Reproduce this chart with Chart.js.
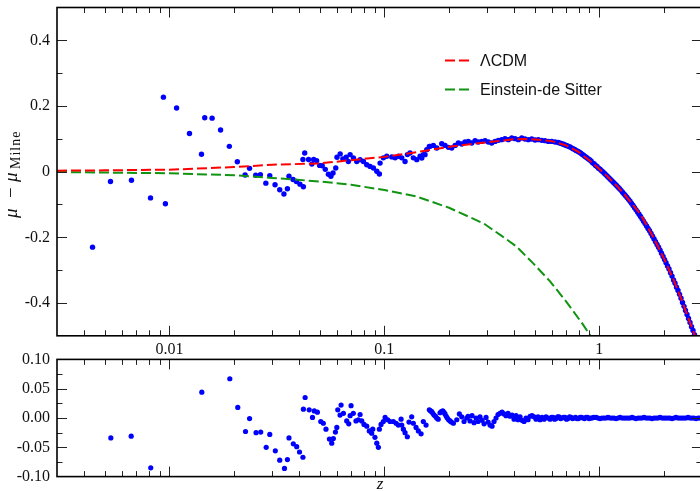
<!DOCTYPE html>
<html lang="en">
<head>
  <meta charset="UTF-8" />
  <title>mu - mu Milne</title>
  <style>
    html, body {
      margin: 0;
      padding: 0;
      background: #fff;
      overflow: hidden;
    }
    #wrap {
      position: relative;
      width: 700px;
      height: 491px;
      overflow: hidden;
    }
    canvas {
      position: absolute;
      left: 0;
    }
    #topChart { top: 0; }
    #resChart { top: 345px; }
  </style>
</head>
<body>
  <div id="wrap">
    <canvas id="topChart" width="720" height="360"></canvas>
    <canvas id="resChart" width="720" height="146"></canvas>
  </div>

  <script src="https://cdn.jsdelivr.net/npm/chart.js"></script>
  <script>
    // model curves
    const zModel = [0.003, 0.005, 0.01, 0.02, 0.03, 0.05, 0.07, 0.1, 0.15, 0.2, 0.25, 0.3, 0.35, 0.4, 0.45, 0.5,
      0.6, 0.7, 0.8, 0.9, 1.0, 1.1, 1.2, 1.3, 1.4, 1.5, 1.6, 1.8, 2.0, 2.2, 2.4, 2.6, 2.8, 3.0];
    const lcdm = [0.003, 0.004, 0.006, 0.014, 0.021, 0.025, 0.035, 0.045, 0.062, 0.0755, 0.0837, 0.0895, 0.0944, 0.0986, 0.0992, 0.098,
      0.093, 0.080, 0.060, 0.034, 0.008, -0.017, -0.042, -0.067, -0.093, -0.117, -0.144, -0.205, -0.265, -0.325, -0.386, -0.448, -0.504, -0.565];

    const zEds = [0.003, 0.01, 0.02, 0.03, 0.05, 0.07, 0.1, 0.14, 0.2, 0.29, 0.35, 0.41, 0.49, 0.59, 0.7, 0.84, 0.92];
    const eds = [-0.001, -0.005, -0.011, -0.019, -0.03, -0.04, -0.056, -0.075, -0.11, -0.158, -0.195, -0.227, -0.278, -0.334, -0.395, -0.466, -0.505];

    // supernova points, top panel
    const zTop = [
      0.00439, 0.00532, 0.00666, 0.00817, 0.00938, 0.00958, 0.0108, 0.0124, 0.0141, 0.0146,
      0.0158, 0.0173, 0.0190, 0.0207, 0.0225, 0.0236, 0.0252, 0.0265, 0.0281, 0.0293,
      0.0310, 0.0326, 0.0341, 0.0354, 0.0360, 0.0376, 0.0390, 0.0405, 0.0420, 0.0418,
      0.0426, 0.0444, 0.0460, 0.0469, 0.0484, 0.0500, 0.0514, 0.0531, 0.0549, 0.0564,
      0.0577, 0.0594, 0.0602, 0.0623, 0.0641, 0.0664,
      0.0680, 0.0693, 0.0718, 0.0744, 0.0771, 0.0799, 0.0828, 0.0858, 0.0889, 0.0922,
      0.0948, 0.0955, 0.0989, 0.1026, 0.1083, 0.1122, 0.1162, 0.1205, 0.1248, 0.1280,
      0.1316, 0.1364, 0.1415, 0.1466, 0.1518, 0.1574, 0.1619,
      0.1493, 0.1546, 0.1632, 0.1690, 0.1753, 0.1849, 0.1915, 0.1985, 0.2058, 0.2133,
      0.2209, 0.2291, 0.2372, 0.2458, 0.2549, 0.2642, 0.2737, 0.2838, 0.2940, 0.3046,
      0.3158, 0.3273, 0.3390, 0.3516, 0.3641, 0.3773, 0.3914, 0.4055, 0.4200, 0.4356,
      0.4512, 0.4675, 0.4848, 0.5023, 0.5203, 0.5396, 0.5590, 0.5791, 0.6006, 0.6223,
      0.6424, 0.6635, 0.6851, 0.7075, 0.7307, 0.7546, 0.7791, 0.8045, 0.8309, 0.8580,
      0.8860, 0.9149, 0.9448, 0.9757, 1.0076, 1.0404, 1.0745, 1.1094, 1.1458, 1.1832,
      1.2218, 1.2617, 1.3029, 1.3454, 1.3896, 1.4348, 1.4817, 1.5303, 1.5801, 1.6318,
      1.6850, 1.7401, 1.7967, 1.8555, 1.9165, 1.9793, 2.0425, 2.1095, 2.1782, 2.2496,
      2.3227, 2.3988, 2.4774, 2.5581, 2.6419, 2.7280, 2.8173,
      0.6529, 0.6743, 0.6965, 0.7191, 0.7424, 0.7670, 0.7918, 0.8178, 0.8443, 0.8719,
      0.9004, 0.9298, 0.9601, 0.9915, 1.0238, 1.0573, 1.0917, 1.1274, 1.1641, 1.2023,
      1.2417, 1.2821, 1.3240, 1.3673, 1.4120, 1.4581, 1.5058, 1.5549, 1.6057, 1.6581,
      1.7123, 1.7681, 1.8259, 1.8854, 1.9470, 2.0107, 2.0763, 2.1442, 2.2140, 2.2864,
      2.3609, 2.4378, 2.5172, 2.5996, 2.6842, 2.7715
    ];
    const muTop = [
      -0.230, -0.030, -0.026, -0.080, 0.227, -0.098, 0.194, 0.116, 0.053, 0.164,
      0.163, 0.127, 0.077, 0.030, -0.010, 0.010, -0.011, -0.009, -0.035, -0.012,
      -0.040, -0.055, -0.068, -0.052, -0.014, -0.024, -0.030, -0.038, -0.046, 0.037,
      0.057, 0.037, 0.023, 0.037, 0.033, 0.019, 0.018, 0.007, -0.008, -0.014,
      -0.004, 0.011, 0.044, 0.054, 0.039, 0.044,
      0.031, 0.052, 0.042, 0.031, 0.0365, 0.031, 0.021, 0.016, 0.011, 0.001,
      -0.007, 0.026, 0.042, 0.047, 0.045, 0.042, 0.047, 0.042, 0.031, 0.052,
      0.057, 0.042, 0.0365, 0.047, 0.052, 0.067, 0.077,
      0.0417, 0.0518, 0.077, 0.080, 0.0721, 0.0852, 0.080, 0.074, 0.0721, 0.080,
      0.0874, 0.0843, 0.0904, 0.0922, 0.0874, 0.0944, 0.0904, 0.0922, 0.0944, 0.0904,
      0.0874, 0.0922, 0.0953, 0.0974, 0.1005, 0.0974, 0.1026, 0.1005, 0.0974, 0.1026,
      0.0995, 0.0974, 0.0995, 0.0965, 0.0974, 0.0953, 0.0944, 0.0922, 0.0922, 0.0904,
      0.0889, 0.0861, 0.0825, 0.0788, 0.0752, 0.0700, 0.0648, 0.0597, 0.0533, 0.0463,
      0.0396, 0.0323, 0.0240, 0.0158, 0.0076, -0.0012, -0.0104, -0.0192, -0.0283, -0.0377,
      -0.0472, -0.0569, -0.0679, -0.0788, -0.0898, -0.1032, -0.1163, -0.1297, -0.1437, -0.1583,
      -0.1729, -0.1881, -0.2052, -0.2219, -0.2390, -0.2581, -0.2773, -0.2965, -0.3181, -0.3400,
      -0.3619, -0.3857, -0.4103, -0.4350, -0.4597, -0.4840, -0.5087,
      0.0877, 0.0843, 0.0807, 0.0770, 0.0725, 0.0673, 0.0621, 0.0566, 0.0499, 0.0429,
      0.0362, 0.0268, 0.0186, 0.0104, 0.0030, -0.0058, -0.0146, -0.0237, -0.0332, -0.0423,
      -0.0518, -0.0624, -0.0734, -0.0843, -0.0965, -0.1096, -0.1230, -0.1364, -0.1510, -0.1656,
      -0.1802, -0.1967, -0.2137, -0.2304, -0.2487, -0.2679, -0.2871, -0.3081, -0.3300, -0.3519,
      -0.3738, -0.3982, -0.4228, -0.4475, -0.4721, -0.4965
    ];

    // residuals, bottom panel
    const zRes = [
      0.00534, 0.00664, 0.00819, 0.01415, 0.0191, 0.0208, 0.0226, 0.0236, 0.0253, 0.0266,
      0.0282, 0.0293, 0.0311, 0.0326, 0.0343, 0.0354, 0.0360, 0.0377, 0.0391, 0.0403,
      0.0418, 0.0428, 0.0420, 0.0447, 0.0463, 0.0472, 0.0488, 0.0506, 0.0520, 0.0535,
      0.0555, 0.0569, 0.0579, 0.0592, 0.0601, 0.0607, 0.0629, 0.0622, 0.0645, 0.0668,
      0.0683, 0.0693, 0.0700, 0.0717, 0.0738, 0.0757, 0.0771, 0.0785, 0.0804, 0.0828,
      0.0851, 0.0873, 0.0883, 0.0904, 0.0922, 0.0938, 0.0948, 0.0965, 0.0989, 0.1008,
      0.1037, 0.1063, 0.1101, 0.1134, 0.1161, 0.1196, 0.1205, 0.1226, 0.1248, 0.1279,
      0.1302, 0.1340, 0.1364, 0.1404, 0.1439, 0.1482, 0.1518, 0.1563, 0.1619, 0.1640,
      0.1661, 0.1680, 0.1703, 0.1730, 0.1752, 0.1780, 0.1815, 0.1840, 0.1869, 0.1890,
      0.1915, 0.1940, 0.1963, 0.1990, 0.2021, 0.2050, 0.2094, 0.2172, 0.2233, 0.2291,
      0.2348, 0.2416,
      0.2450, 0.2503, 0.2558, 0.2614, 0.2670, 0.2728, 0.2786, 0.2847, 0.2909, 0.2972,
      0.3036, 0.3101, 0.3169, 0.3237, 0.3307, 0.3379, 0.3451, 0.3527, 0.3603, 0.3681,
      0.3761, 0.3842, 0.3926, 0.4011, 0.4098, 0.4186, 0.4277, 0.4370, 0.4465, 0.4561,
      0.4660, 0.4761, 0.4864, 0.4970, 0.5077, 0.5187, 0.5300, 0.5415, 0.5532, 0.5652,
      0.5774, 0.5898, 0.6092, 0.6288, 0.6495, 0.6707, 0.6926, 0.7152, 0.7385, 0.7627,
      0.7875, 0.8133, 0.8398, 0.8671, 0.8956, 0.9248,
      0.9653, 1.0076, 1.0517, 1.0977, 1.1458, 1.1960, 1.2484, 1.3029, 1.3600, 1.4196,
      1.4817, 1.5467, 1.6144, 1.6851, 1.7589, 1.8359, 1.9163, 2.0003, 2.0874, 2.1782,
      2.2736, 2.3732, 2.4774, 2.5859, 2.6992, 2.8173, 2.9408,
      0.5992, 0.6189, 0.6391, 0.6600, 0.6815, 0.7036, 0.7267, 0.7505, 0.7750, 0.8003,
      0.8264, 0.8535, 0.8813, 0.9101, 0.9398,
      0.9862, 1.0293, 1.0744, 1.1214, 1.1705, 1.2217, 1.2751, 1.3310, 1.3892, 1.4500,
      1.5136, 1.5799, 1.6491, 1.7216, 1.7966, 1.8750, 1.9571, 2.0425, 2.1321, 2.2255,
      2.3227, 2.4250, 2.5312, 2.6419, 2.7571, 2.8785
    ];
    const res = [
      -0.034, -0.031, -0.085, 0.044, 0.067, 0.018, -0.023, -0.001, -0.025, -0.024,
      -0.050, -0.028, -0.056, -0.072, -0.086, -0.071, -0.034, -0.044, -0.049, -0.058,
      -0.067, 0.035, 0.015, 0.014, 0.001, 0.012, 0.010, -0.006, -0.009, -0.019,
      -0.036, -0.043, -0.035, -0.024, -0.016, 0.014, 0.022, 0.005, 0.008, -0.005,
      -0.010, 0.004, 0.021, 0.008, -0.005, -0.003, 0.006, -0.005, -0.011, -0.014,
      -0.022, -0.026, -0.019, -0.033, -0.043, -0.050, -0.019, -0.011, -0.006, 0.001,
      -0.003, -0.006, -0.006, -0.009, -0.012, -0.002, -0.012, -0.019, -0.025, -0.032,
      -0.007, 0.002, -0.009, -0.016, -0.022, -0.027, -0.006, -0.012, 0.014, 0.012,
      0.011, 0.008, 0.005, 0.003, 0.000, -0.002, 0.009, 0.011, 0.012, 0.010,
      0.007, 0.003, 0.000, -0.003, -0.005, -0.007, -0.009, -0.003, 0.007, 0.002,
      -0.006, 0.000,
      0.003, -0.005, 0.004, -0.008, 0.000, -0.006, 0.002, -0.004, -0.010, 0.001,
      -0.007, -0.012, -0.014, -0.006, 0.000, 0.006, 0.008, 0.010, 0.007, 0.004,
      0.008, 0.003, 0.005, -0.002, 0.004, -0.003, 0.002, -0.004, -0.006, 0.000,
      -0.003, 0.003, 0.004, 0.002, -0.002, 0.002, -0.003, 0.001, -0.002, 0.002,
      0.000, -0.002, 0.001, -0.001, 0.002, 0.000, 0.001, -0.001, 0.001, 0.000,
      -0.001, 0.001, 0.000, 0.001, -0.001, 0.000,
      0.001, -0.001, 0.000, 0.001, 0.000, -0.001, 0.001, 0.000, 0.000, 0.001,
      -0.001, 0.000, 0.001, 0.000, -0.001, 0.000, 0.001, 0.000, 0.000, -0.001,
      0.001, 0.000, 0.000, 0.001, 0.000, -0.001, 0.000,
      0.001, -0.002, 0.002, -0.001, 0.001, -0.002, 0.002, -0.001, 0.001, -0.001,
      0.001, -0.001, 0.001, 0.000, 0.001,
      0.000, 0.000, 0.000, 0.000, 0.000, 0.000, 0.000, 0.000, 0.000, 0.000,
      0.000, 0.000, 0.000, 0.000, 0.000, 0.000, 0.000, 0.000, 0.000, 0.000,
      0.000, 0.000, 0.000, 0.000, 0.000, 0.000
    ];

    // ticks
    const xMajorTicks = [0.01, 0.1, 1];
    const xTickLabels = ['0.01', '0.1', '1'];
    const xMinorTicks = [0.003, 0.004, 0.005, 0.006, 0.007, 0.008, 0.009,
      0.02, 0.03, 0.04, 0.05, 0.06, 0.07, 0.08, 0.09,
      0.2, 0.3, 0.4, 0.5, 0.6, 0.7, 0.8, 0.9, 2];
    const yTopTicks = [-0.4, -0.2, 0, 0.2, 0.4];
    const yTopLabels = ['-0.4', '-0.2', '0', '0.2', '0.4'];
    const yTopMinor = [-0.3, -0.1, 0.1, 0.3];
    const yResTicks = [-0.1, -0.05, 0, 0.05, 0.1];
    const yResLabels = ['-0.10', '-0.05', '0.00', '0.05', '0.10'];
    const yResMinor = [-0.075, -0.025, 0.025, 0.075];

    const toPts = (xs, ys) => xs.map((x, i) => ({ x: x, y: ys[i] }));
    const serif = '"Liberation Serif", "DejaVu Serif", serif';
    const sans = '"Liberation Sans", Arial, sans-serif';

    // inward ticks on all four sides plus the frame
    const frameTicks = {
      id: 'frameTicks',
      afterDraw(chart, args, o) {
        const { ctx, chartArea: a, scales: { x, y } } = chart;
        ctx.save();
        ctx.strokeStyle = '#222';
        ctx.lineWidth = 1;
        const seg = (x1, y1, x2, y2) => { ctx.beginPath(); ctx.moveTo(x1, y1); ctx.lineTo(x2, y2); ctx.stroke(); };
        const xt = (vals, len) => vals.forEach(v => {
          const p = Math.round(x.getPixelForValue(v)) + 0.5;
          if (p <= a.left + 1 || p >= a.right - 1) return;
          seg(p, a.top, p, a.top + len);
          seg(p, a.bottom, p, a.bottom - len);
        });
        const yt = (vals, len) => vals.forEach(v => {
          const p = Math.round(y.getPixelForValue(v)) + 0.5;
          if (p <= a.top + 1 || p >= a.bottom - 1) return;
          seg(a.left, p, a.left + len, p);
          seg(a.right, p, a.right - len, p);
        });
        xt(o.xMajor, 10); xt(o.xMinor, 5.5);
        yt(o.yMajor, 10); yt(o.yMinor, 5.5);
        ctx.strokeStyle = '#000';
        ctx.lineWidth = 1.6;
        ctx.strokeRect(a.left, a.top, a.right - a.left, a.bottom - a.top);
        ctx.restore();
      }
    };

    // legend in the upper right of the top panel
    const lineLegend = {
      id: 'lineLegend',
      afterDatasetsDraw(chart, args, o) {
        if (!o.show) return;
        const ctx = chart.ctx;
        ctx.save();
        ctx.font = '16px ' + sans;
        ctx.textBaseline = 'middle';
        ctx.fillStyle = '#111';
        o.items.forEach((idx, k) => {
          const ds = chart.data.datasets[idx];
          const yy = o.y + k * o.step;
          ctx.strokeStyle = ds.borderColor;
          ctx.lineWidth = ds.borderWidth;
          ctx.setLineDash(ds.borderDash);
          ctx.beginPath(); ctx.moveTo(o.x, yy); ctx.lineTo(o.x + 25, yy); ctx.stroke();
          ctx.setLineDash([]);
          ctx.fillText(ds.label, o.x + 35, yy + 1);
        });
        ctx.restore();
      }
    };

    // axis titles
    const axisTitles = {
      id: 'axisTitles',
      afterDraw(chart, args, o) {
        const ctx = chart.ctx;
        ctx.save();
        ctx.fillStyle = '#111';
        if (o.yTitle) {
          ctx.translate(17, 172);
          ctx.rotate(-Math.PI / 2);
          ctx.textBaseline = 'alphabetic';
          ctx.font = 'italic 19px ' + serif;
          ctx.fillText('\u03bc', -46, 0);
          ctx.font = '19px ' + serif;
          ctx.fillText('\u2212', -26, 0);
          ctx.font = 'italic 19px ' + serif;
          ctx.fillText('\u03bc', -10, 0);
          ctx.font = '14px ' + serif;
          ctx.letterSpacing = '1px';
          ctx.fillText('Milne', 3, 3);
        }
        if (o.xTitle) {
          ctx.font = 'italic 17px ' + serif;
          ctx.textAlign = 'center';
          ctx.textBaseline = 'middle';
          ctx.fillText('z', 380, 140);
        }
        ctx.restore();
      }
    };

    function xScale(showLabels, height) {
      return {
        type: 'logarithmic',
        min: 0.003,
        max: 3,
        grid: { display: false, drawTicks: false },
        border: { display: false },
        afterBuildTicks: s => { s.ticks = xMajorTicks.map(v => ({ value: v })); },
        afterFit: s => { s.height = height; s.paddingLeft = 0; s.paddingRight = 0; },
        ticks: {
          display: showLabels,
          padding: 4,
          maxRotation: 0,
          autoSkip: false,
          color: '#111',
          font: { family: serif, size: 16 },
          callback: (v, i) => xTickLabels[i]
        }
      };
    }

    function yScale(min, max, vals, labels) {
      return {
        type: 'linear',
        min: min,
        max: max,
        grid: { display: false, drawTicks: false },
        border: { display: false },
        afterBuildTicks: s => { s.ticks = vals.map(v => ({ value: v })); },
        afterFit: s => { s.width = 57; s.paddingTop = 0; s.paddingBottom = 0; },
        ticks: {
          padding: 7,
          autoSkip: false,
          color: '#111',
          font: { family: serif, size: 16 },
          callback: (v, i) => labels[i]
        }
      };
    }

    Chart.register(frameTicks, lineLegend, axisTitles);

    new Chart(document.getElementById('topChart'), {
      type: 'scatter',
      data: {
        datasets: [
          {
            label: '\u039bCDM', data: toPts(zModel, lcdm), showLine: true, pointRadius: 0,
            borderColor: '#ff0000', borderWidth: 2, borderDash: [10, 4], fill: false, order: 0
          },
          {
            label: 'Einstein-de Sitter', data: toPts(zEds, eds), showLine: true, pointRadius: 0,
            borderColor: '#119411', borderWidth: 2, borderDash: [10, 4], fill: false, order: 1
          },
          {
            label: 'data', data: toPts(zTop, muTop), pointRadius: 2.7, pointBorderWidth: 0,
            backgroundColor: '#0000ff', borderColor: '#0000ff', order: 2
          }
        ]
      },
      options: {
        responsive: false,
        animation: false,
        devicePixelRatio: 1,
        layout: { padding: { top: 7.5, right: 18.1, left: 0, bottom: 0 } },
        scales: {
          x: xScale(true, 24.2),
          y: yScale(-0.5, 0.5, yTopTicks, yTopLabels)
        },
        plugins: {
          legend: { display: false },
          tooltip: { enabled: false },
          frameTicks: { xMajor: xMajorTicks, xMinor: xMinorTicks, yMajor: yTopTicks, yMinor: yTopMinor },
          lineLegend: { show: true, items: [0, 1], x: 445, y: 60.5, step: 29 },
          axisTitles: { yTitle: true }
        }
      }
    });

    new Chart(document.getElementById('resChart'), {
      type: 'scatter',
      data: {
        datasets: [
          {
            label: 'residual', data: toPts(zRes, res), pointRadius: 2.6, pointBorderWidth: 0,
            backgroundColor: '#0000ff', borderColor: '#0000ff'
          }
        ]
      },
      options: {
        responsive: false,
        animation: false,
        devicePixelRatio: 1,
        layout: { padding: { top: 14.4, right: 18.1, left: 0, bottom: 0 } },
        scales: {
          x: xScale(false, 14.4),
          y: yScale(-0.1, 0.1, yResTicks, yResLabels)
        },
        plugins: {
          legend: { display: false },
          tooltip: { enabled: false },
          frameTicks: { xMajor: xMajorTicks, xMinor: xMinorTicks, yMajor: yResTicks, yMinor: yResMinor },
          lineLegend: { show: false },
          axisTitles: { xTitle: true }
        }
      }
    });
  </script>
</body>
</html>
